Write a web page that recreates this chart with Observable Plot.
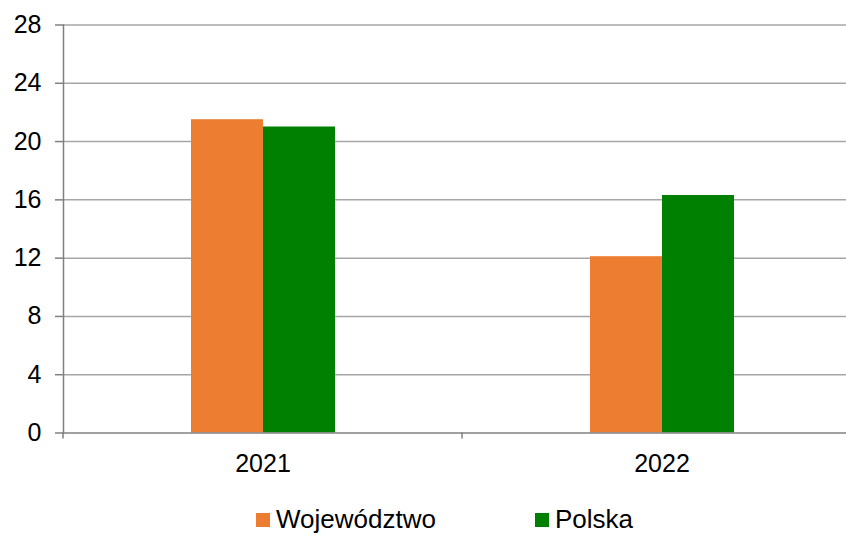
<!DOCTYPE html>
<html>
<head>
<meta charset="utf-8">
<script src="https://cdn.jsdelivr.net/npm/d3@7"></script>
<script src="https://cdn.jsdelivr.net/npm/@observablehq/plot@0.6"></script>
<style>
  html, body { margin: 0; padding: 0; background: #fff; overflow: hidden; }
  #wrap { position: relative; width: 846px; height: 534px; overflow: hidden; font-family: "Liberation Sans", Arial, sans-serif; }
  #chart svg { max-width: none !important; width: 861px !important; height: 500px !important; display: block; }
  .lg-sw { position: absolute; width: 14px; height: 14px; }
  .lg-tx { position: absolute; font-size: 26px; line-height: 30px; color: #000; white-space: nowrap; }
</style>
</head>
<body>
<div id="wrap"><div id="chart"></div></div>
<script>
// ---- data ----
const years = ["2021", "2022"];
const series = ["Województwo", "Polska"];
const wojValues = [21.5, 12.1];
const polskaValues = [21.0, 16.3];
const colors = ["#ED7D31", "#008000"];
const yTicks = [0, 4, 8, 12, 16, 20, 24, 28];

const data = years.flatMap((yr, i) => [
  {year: yr, series: series[0], value: wojValues[i]},
  {year: yr, series: series[1], value: polskaValues[i]}
]);

// short category-boundary ticks below the baseline, drawn in every facet
function boundaryTicks(index, scales, values, dims) {
  const y0 = scales.y(0);
  return d3.create("svg:line")
    .attr("x1", dims.marginLeft).attr("x2", dims.marginLeft)
    .attr("y1", y0).attr("y2", y0 + 6)
    .attr("stroke", "#808080").attr("stroke-width", 1.5)
    .node();
}

const chart = Plot.plot({
  width: 861,
  height: 500,
  marginLeft: 62,
  marginRight: 0,
  marginTop: 24.5,
  marginBottom: 67.5,
  style: {fontFamily: "'Liberation Sans', Arial, sans-serif", fontSize: "25px", color: "#000", background: "#fff", maxWidth: "none"},
  fx: {domain: years, paddingInner: 0, paddingOuter: 0, label: null},
  x: {domain: series, paddingInner: 0, paddingOuter: 1.755, axis: null},
  y: {domain: [0, 28], label: null},
  color: {domain: series, range: colors},
  marks: [
    Plot.ruleY(yTicks.filter(t => t > 0), {stroke: "#a6a6a6", strokeWidth: 1.5}),
    Plot.barY(data, {fx: "year", x: "series", y: "value", fill: "series"}),
    Plot.ruleY([0], {stroke: "#808080", strokeWidth: 1.5}),
    Plot.frame({anchor: "left", facetAnchor: "left", stroke: "#808080", strokeWidth: 1.5}),
    boundaryTicks,
    Plot.axisY({ticks: yTicks, tickSize: 8, tickPadding: 14, stroke: "#808080", strokeWidth: 1.5, fill: "#000", fontSize: 25, label: null}),
    Plot.axisFx({tickSize: 0, tickPadding: 21, fill: "#000", fontSize: 25, label: null, anchor: "bottom"})
  ]
});
document.getElementById("chart").appendChild(chart);

// legend below the chart
const legendX = [256, 535];
const wrap = d3.select("#wrap");
series.forEach((s, i) => {
  wrap.append("div").attr("class", "lg-sw")
    .style("left", legendX[i] + "px").style("top", "513px")
    .style("background", colors[i]);
  wrap.append("div").attr("class", "lg-tx")
    .style("left", (legendX[i] + 20) + "px").style("top", "503.5px")
    .text(s);
});
</script>
</body>
</html>
